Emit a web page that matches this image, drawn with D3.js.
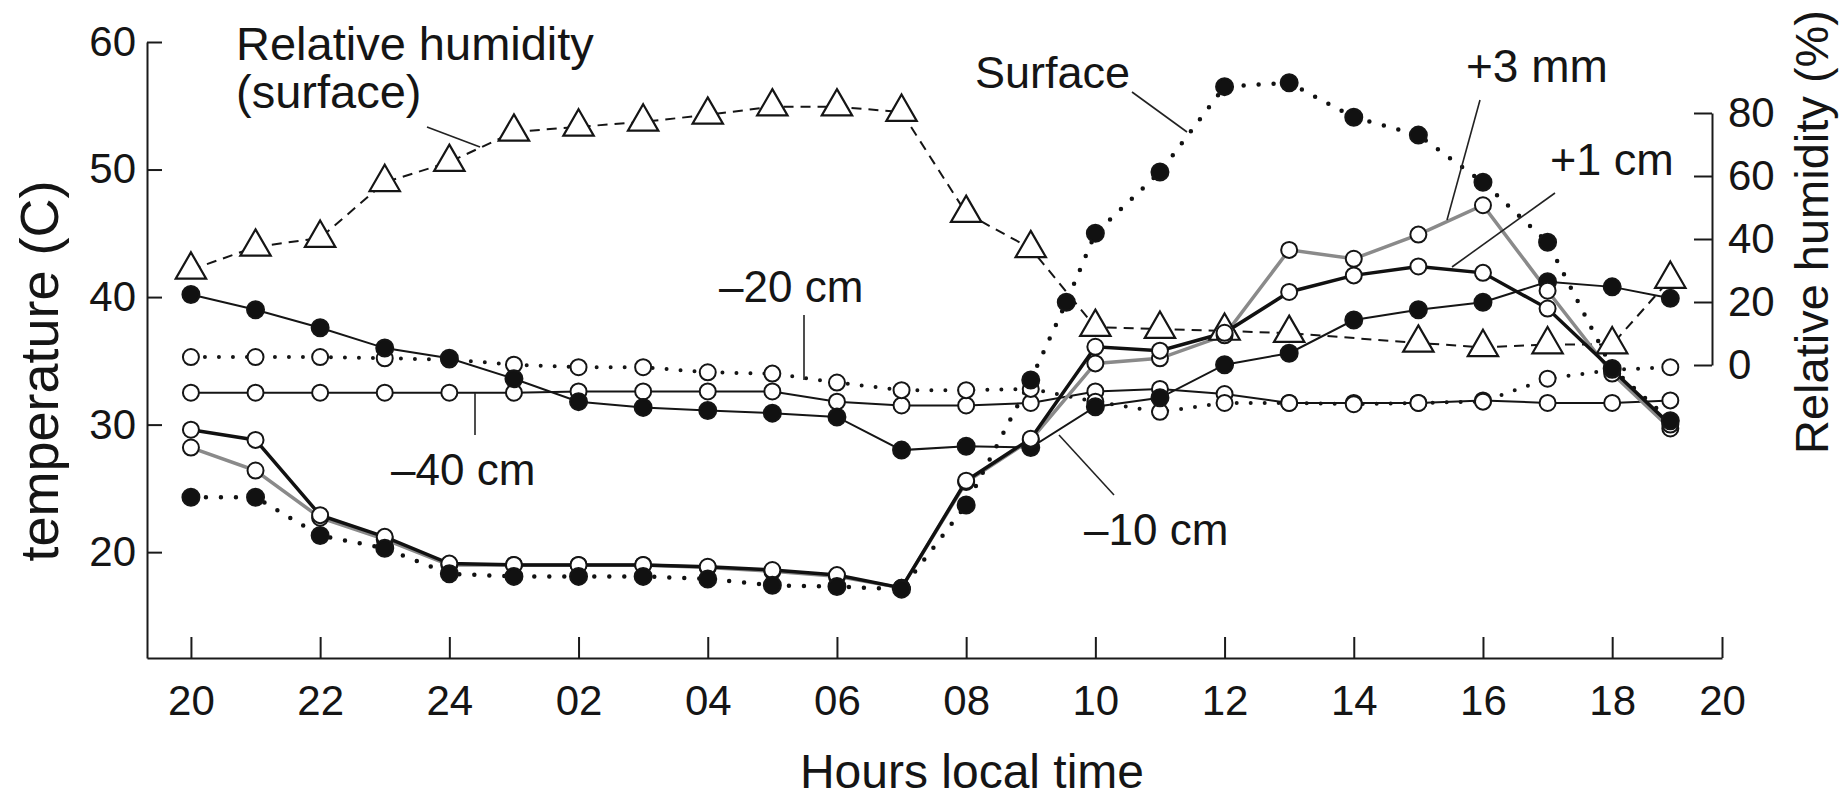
<!DOCTYPE html>
<html>
<head>
<meta charset="utf-8">
<script src="https://cdn.jsdelivr.net/npm/d3@7"></script>
<style>
  body { margin: 0; background: #fff; }
  svg text { font-family: "Liberation Sans", Arial, sans-serif; fill: #151515; }
</style>
</head>
<body>
<div id="chart"></div>
<script>
// time axis: hours after 20:00 local time (last reading sits a little before 19:00)
const times = [0, 1, 2, 3, 4, 5, 6, 7, 8, 9, 10, 11, 12, 13, 14, 15, 16, 17, 18, 19, 20, 21, 22, 22.9];
// the surface series has one extra reading at about 09:30
const surfaceTimes = [0, 1, 2, 3, 4, 5, 6, 7, 8, 9, 10, 11, 12, 13, 13.55, 14, 15, 16, 17, 18, 19, 20, 21, 22, 22.9];

const tickHours = [0, 2, 4, 6, 8, 10, 12, 14, 16, 18, 20, 22, 23.7];
const tickLabels = ["20", "22", "24", "02", "04", "06", "08", "10", "12", "14", "16", "18", "20"];
const tempTicks = [20, 30, 40, 50, 60];
const rhTicks = [0, 20, 40, 60, 80];

// temperatures (C)
const surface = [24.3, 24.3, 21.3, 20.3, 18.3, 18.1, 18.1, 18.1, 17.9, 17.4, 17.3, 17.1, 23.7, 33.5, 39.6, 45.0, 49.8, 56.5, 56.8, 54.1, 52.7, 49.0, 44.3, 34.4, 30.3];
const plus3mm = [28.2, 26.4, 22.7, 21.0, 19.0, 19.0, 19.0, 19.0, 18.8, 18.5, 18.1, 17.2, 25.5, 28.8, 34.8, 35.2, 37.0, 43.7, 43.0, 44.9, 47.2, 40.5, 34.0, 29.7];
const plus1cm = [29.6, 28.8, 22.9, 21.2, 19.1, 19.0, 19.0, 19.0, 18.85, 18.6, 18.2, 17.2, 25.6, 28.9, 36.1, 35.8, 37.2, 40.4, 41.7, 42.4, 41.9, 39.1, 34.3, 30.0];
const minus10 = [40.2, 39.0, 37.6, 36.0, 35.2, 33.6, 31.8, 31.35, 31.1, 30.9, 30.6, 28.0, 28.3, 28.2, 31.4, 32.1, 34.7, 35.6, 38.2, 39.0, 39.6, 41.2, 40.8, 39.9];
const minus20 = [35.3, 35.3, 35.3, 35.2, 35.1, 34.7, 34.5, 34.5, 34.1, 34.0, 33.3, 32.7, 32.7, 32.8, 31.8, 31.0, 31.7, 31.7, 31.6, 31.7, 31.8, 33.6, 34.3, 34.5];
const minus40 = [32.5, 32.5, 32.5, 32.5, 32.5, 32.5, 32.6, 32.6, 32.6, 32.6, 31.8, 31.5, 31.5, 31.7, 32.6, 32.8, 32.4, 31.7, 31.7, 31.7, 31.9, 31.7, 31.7, 31.9];
// relative humidity at the surface (%), no reading at 14h
const humidity = [30.2, 37.5, 40.3, 58, 64.4, 74, 75.6, 77.2, 79.4, 82, 82, 80.3, 48.2, 37, 12, 11.4, 10.8, 10.1, null, 7.0, 5.6, 6.5, 6.5, 27.3];

const width = 1847, height = 799;

const svg = d3.select("#chart").append("svg")
  .attr("width", width)
  .attr("height", height);

svg.append("rect").attr("width", width).attr("height", height).attr("fill", "#fff");

const x = d3.scaleLinear().domain([-0.68, 23.7]).range([147, 1722]);
const yT = d3.scaleLinear().domain([11.7, 60]).range([658, 42]);
const yR = d3.scaleLinear().domain([0, 80]).range([365, 113]);

// axes
const xAxis = svg.append("g")
  .attr("transform", "translate(0,658)")
  .call(d3.axisBottom(x).tickValues(tickHours)
    .tickFormat((d, i) => tickLabels[i])
    .tickSizeInner(-21).tickSizeOuter(0).tickPadding(27));

const leftAxis = svg.append("g")
  .attr("transform", "translate(147,0)")
  .call(d3.axisLeft(yT).tickValues(tempTicks)
    .tickSizeInner(-15).tickSizeOuter(0).tickPadding(11));

const rightAxis = svg.append("g")
  .attr("transform", "translate(1712,0)")
  .call(d3.axisRight(yR).tickValues(rhTicks)
    .tickSizeInner(-18).tickSizeOuter(0).tickPadding(16));

[xAxis, leftAxis, rightAxis].forEach(g => {
  g.attr("font-family", null).attr("font-size", null);
  g.selectAll("path.domain").attr("stroke", "#1a1a1a").attr("stroke-width", 2);
  g.selectAll(".tick line").attr("stroke", "#1a1a1a").attr("stroke-width", 2);
  g.selectAll(".tick text").style("font-size", "42px").attr("fill", "#151515");
});

// series
const pts = (ts, vs) => ts.map((t, i) => ({ t: t, v: vs[i] })).filter(d => d.v != null);

const series = [
  { name: "-40", data: pts(times, minus40), y: yT, stroke: "#151515", width: 2, dash: null, mark: "open" },
  { name: "-20", data: pts(times, minus20), y: yT, stroke: "#151515", width: 4, dash: "0,14", mark: "open" },
  { name: "-10", data: pts(times, minus10), y: yT, stroke: "#151515", width: 2, dash: null, mark: "filled" },
  { name: "rh", data: pts(times, humidity), y: yR, stroke: "#151515", width: 2, dash: "10,7", mark: "triangle" },
  { name: "+3mm", data: pts(times, plus3mm), y: yT, stroke: "#8a8a8a", width: 3.5, dash: null, mark: "open" },
  { name: "+1cm", data: pts(times, plus1cm), y: yT, stroke: "#111", width: 3.5, dash: null, mark: "open" },
  { name: "surface", data: pts(surfaceTimes, surface), y: yT, stroke: "#111", width: 4.5, dash: "0,15", mark: "filled" }
];

const lines = svg.append("g").attr("class", "lines");
series.forEach(s => {
  const line = d3.line().x(d => x(d.t)).y(d => s.y(d.v));
  lines.append("path")
    .datum(s.data)
    .attr("d", line)
    .attr("fill", "none")
    .attr("stroke", s.stroke)
    .attr("stroke-width", s.width)
    .attr("stroke-linecap", s.dash && s.dash.startsWith("0") ? "round" : "butt")
    .attr("stroke-dasharray", s.dash);
});

const marks = svg.append("g").attr("class", "marks");
const tri = d3.symbol().type(d3.symbolTriangle).size(400);
series.forEach(s => {
  const g = marks.append("g");
  if (s.mark === "triangle") {
    g.selectAll("path").data(s.data).join("path")
      .attr("d", tri)
      .attr("transform", d => `translate(${x(d.t)},${s.y(d.v)})`)
      .attr("fill", "#fff")
      .attr("stroke", "#151515")
      .attr("stroke-width", 2.2);
  } else {
    g.selectAll("circle").data(s.data).join("circle")
      .attr("cx", d => x(d.t))
      .attr("cy", d => s.y(d.v))
      .attr("r", s.mark === "filled" ? 8.5 : 8)
      .attr("fill", s.mark === "filled" ? "#111" : "#fff")
      .attr("stroke", "#151515")
      .attr("stroke-width", 2);
  }
});

// annotations
const notes = svg.append("g").attr("class", "notes");
const label = (txt, px, py, size) => notes.append("text")
  .attr("x", px).attr("y", py)
  .style("font-size", size + "px")
  .text(txt);

label("Relative humidity", 236, 60, 47);
label("(surface)", 236, 108, 47);
label("Surface", 975, 88, 45);
label("+3 mm", 1466, 82, 46);
label("+1 cm", 1550, 175, 45);
label("\u201320 cm", 719, 302, 44);
label("\u201340 cm", 391, 485, 44);
label("\u201310 cm", 1084, 545, 44);

const leaders = [
  [427, 127, 480, 147],
  [1132, 92, 1187, 132],
  [1480, 100, 1447, 220],
  [1555, 193, 1452, 267],
  [804, 315, 804, 380],
  [475, 393, 475, 435],
  [1059, 435, 1114, 495]
];
notes.selectAll("line").data(leaders).join("line")
  .attr("x1", d => d[0]).attr("y1", d => d[1])
  .attr("x2", d => d[2]).attr("y2", d => d[3])
  .attr("stroke", "#222")
  .attr("stroke-width", 1.6);

// axis titles
svg.append("text")
  .attr("x", 972).attr("y", 788)
  .attr("text-anchor", "middle")
  .style("font-size", "48px")
  .text("Hours local time");

svg.append("text")
  .attr("transform", "translate(58,371) rotate(-90)")
  .attr("text-anchor", "middle")
  .style("font-size", "54px")
  .text("temperature (C)");

svg.append("text")
  .attr("transform", "translate(1828,232) rotate(-90)")
  .attr("text-anchor", "middle")
  .style("font-size", "47px")
  .text("Relative humidity (%)");
</script>
</body>
</html>
